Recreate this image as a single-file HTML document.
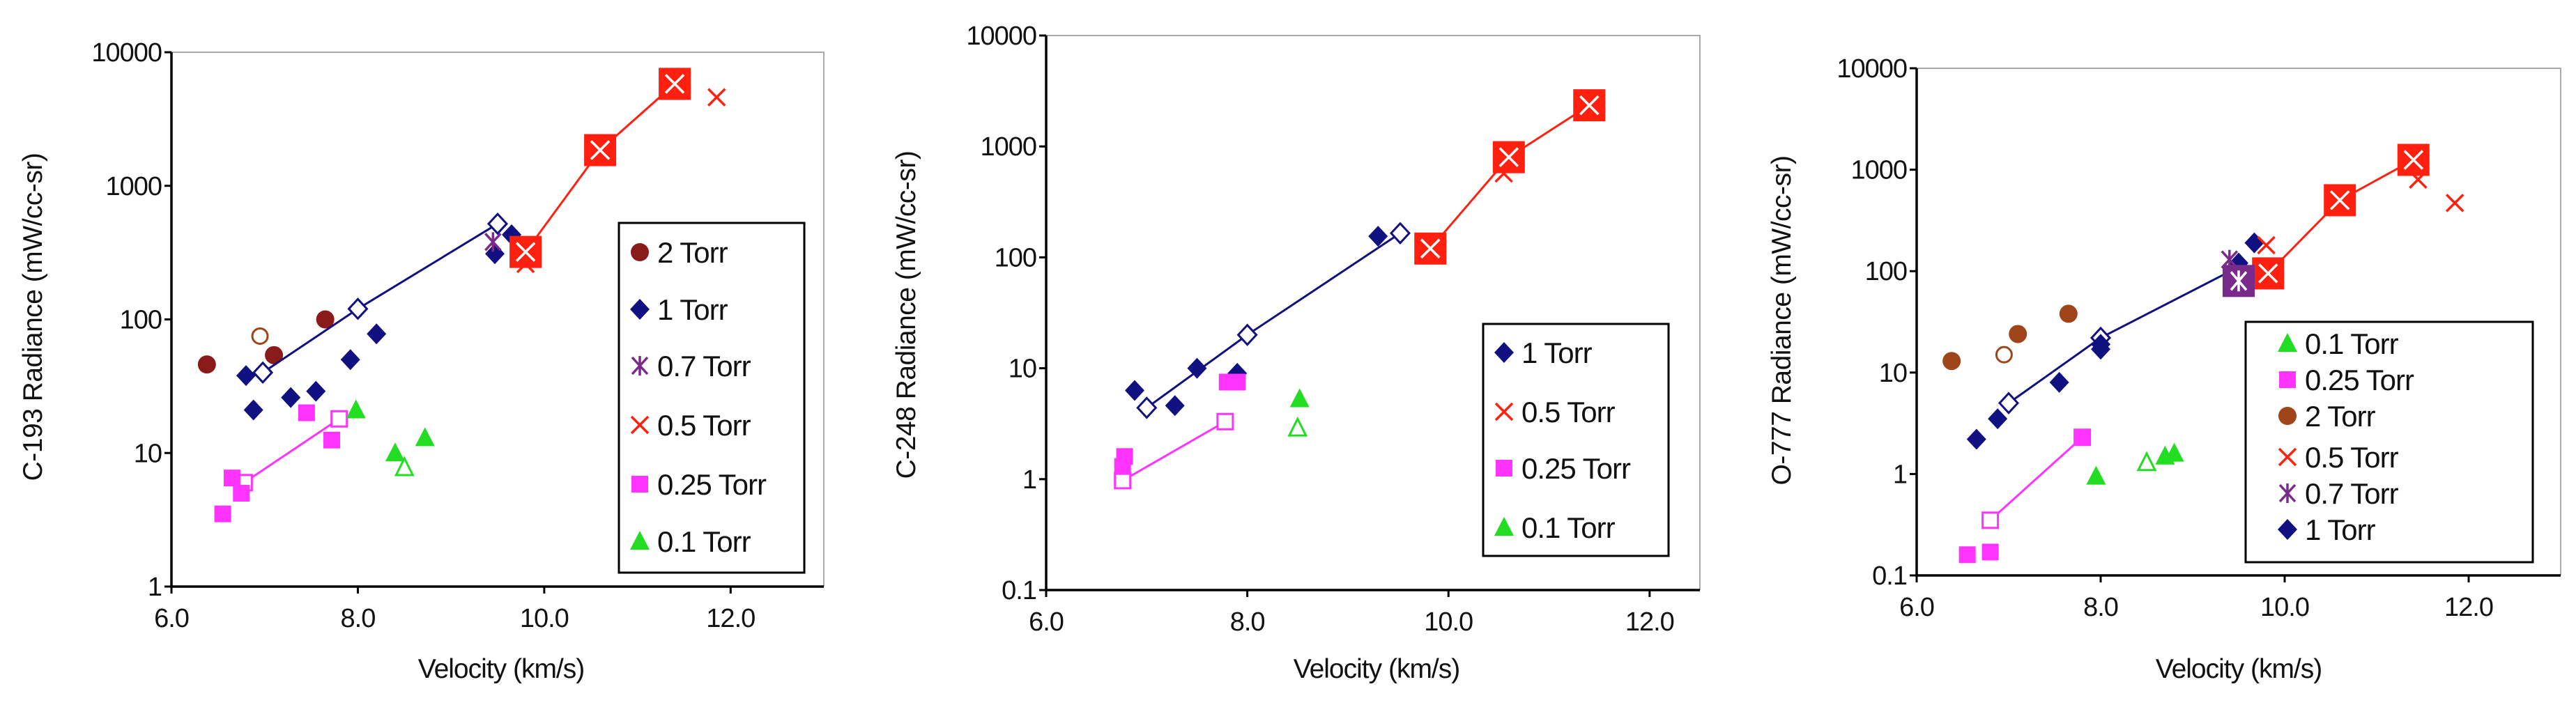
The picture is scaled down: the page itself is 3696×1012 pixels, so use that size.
<!DOCTYPE html>
<html><head><meta charset="utf-8">
<style>
html,body{margin:0;padding:0;background:#fff;}
svg{display:block;font-family:"Liberation Sans",Arial,sans-serif;}
</style></head>
<body>
<svg id="chart" width="3696" height="1012" viewBox="0 0 3696 1012" xmlns="http://www.w3.org/2000/svg"></svg>
<script>
// ---------- Data (velocity km/s, radiance mW/cc-sr) ----------
const xTicks=[6,8,10,12];
const xTickLabels=["6.0","8.0","10.0","12.0"];
// Panel 1: C-193
const p1_torr2=[[6.38,46],[7.1,54],[7.65,100]];
const p1_torr2_open=[[6.95,75]];
const p1_torr1=[[6.8,38],[6.88,21],[7.28,26],[7.55,29],[7.92,50],[8.2,78],[9.47,310],[9.65,430]];
const p1_torr1_fit=[[6.98,40],[8.0,120],[9.5,520]];
const p1_torr07=[[9.45,380]];
const p1_torr05=[[11.85,4600],[9.8,260]];
const p1_torr05_fit=[[9.8,320],[10.6,1850],[11.4,5800]];
const p1_torr025=[[6.55,3.5],[6.65,6.5],[6.75,5],[7.45,20],[7.72,12.5]];
const p1_torr025_fit=[[6.78,6],[7.8,18]];
const p1_torr01=[[7.98,21],[8.4,10],[8.72,13]];
const p1_torr01_open=[[8.5,7.8]];
// Panel 2: C-248
const p2_torr1=[[6.88,6.3],[7.28,4.6],[7.5,10],[7.9,9],[9.3,155]];
const p2_torr1_fit=[[7.0,4.4],[8.0,20],[9.52,165]];
const p2_torr05=[[10.55,570]];
const p2_torr05_fit=[[9.82,120],[10.6,800],[11.4,2350]];
const p2_torr025=[[6.78,1.6],[6.76,1.3],[7.8,7.5],[7.9,7.5]];
const p2_torr025_fit=[[6.76,0.97],[7.78,3.3]];
const p2_torr01=[[8.52,5.3]];
const p2_torr01_open=[[8.5,2.9]];
// Panel 3: O-777
const p3_torr01=[[7.95,0.95],[8.7,1.5],[8.8,1.6]];
const p3_torr01_open=[[8.5,1.3]];
const p3_torr025=[[6.55,0.16],[6.8,0.17],[7.8,2.3]];
const p3_torr025_fit=[[6.8,0.35],[7.8,2.3]];
const p3_torr2=[[6.38,13],[7.1,24],[7.65,38]];
const p3_torr2_open=[[6.95,15]];
const p3_torr05=[[11.85,470],[11.45,800],[9.8,180]];
const p3_torr05_fit=[[9.82,95],[10.6,500],[11.4,1250]];
const p3_torr07=[[9.4,130]];
const p3_torr07_big=[[9.5,80]];
const p3_torr1=[[6.65,2.2],[6.88,3.5],[7.55,8],[8.0,17],[8.0,19],[9.5,120],[9.67,190]];
const p3_torr1_fit=[[7.0,5],[8.0,22],[9.5,110]];

const NS="http://www.w3.org/2000/svg";
const svg=document.getElementById('chart');
function mk(tag,attrs,parent){const e=document.createElementNS(NS,tag);for(const k in attrs)e.setAttribute(k,attrs[k]);(parent||svg).appendChild(e);return e;}

const C={navy:"#101080",red:"#ff2010",mag:"#ff33ff",grn:"#22dd22",brown:"#8b1a1a",brown2:"#a0441a",purp:"#7a2a8a"};

function marker(g,type,x,y,color){
  let e;
  if(type==="diamond"){e=mk('path',{d:`M${x} ${y-15}L${x+14} ${y}L${x} ${y+15}L${x-14} ${y}Z`,fill:color},g);}
  else if(type==="odiamond"){e=mk('path',{d:`M${x} ${y-14}L${x+13} ${y}L${x} ${y+14}L${x-13} ${y}Z`,fill:"#fff",stroke:color,"stroke-width":3},g);}
  else if(type==="circle"){e=mk('circle',{cx:x,cy:y,r:13,fill:color},g);}
  else if(type==="ocircle"){e=mk('circle',{cx:x,cy:y,r:11,fill:"none",stroke:color,"stroke-width":3},g);}
  else if(type==="square"){e=mk('rect',{x:x-12,y:y-12,width:24,height:24,fill:color},g);}
  else if(type==="osquare"){e=mk('rect',{x:x-11,y:y-11,width:22,height:22,fill:"#fff",stroke:color,"stroke-width":3},g);}
  else if(type==="tri"){e=mk('path',{d:`M${x} ${y-15}L${x+14} ${y+12}L${x-14} ${y+12}Z`,fill:color},g);}
  else if(type==="otri"){e=mk('path',{d:`M${x} ${y-13}L${x+12} ${y+11}L${x-12} ${y+11}Z`,fill:"#fff",stroke:color,"stroke-width":3},g);}
  else if(type==="x"){e=mk('path',{d:`M${x-12} ${y-12}L${x+12} ${y+12}M${x+12} ${y-12}L${x-12} ${y+12}`,stroke:color,"stroke-width":3.5,fill:"none"},g);}
  else if(type==="star"){e=mk('path',{d:`M${x-11} ${y-12}L${x+11} ${y+12}M${x+11} ${y-12}L${x-11} ${y+12}M${x} ${y-14}L${x} ${y+14}`,stroke:color,"stroke-width":3.5,fill:"none"},g);}
  else if(type==="bigx"){e=mk('g',{},g);mk('rect',{x:x-23,y:y-23,width:46,height:46,fill:color},e);mk('path',{d:`M${x-13} ${y-13}L${x+13} ${y+13}M${x+13} ${y-13}L${x-13} ${y+13}`,stroke:"#fff","stroke-width":3.5},e);}
  else if(type==="bigstar"){e=mk('g',{},g);mk('rect',{x:x-23,y:y-23,width:46,height:46,fill:color},e);mk('path',{d:`M${x-11} ${y-13}L${x+11} ${y+13}M${x+11} ${y-13}L${x-11} ${y+13}M${x} ${y-15}L${x} ${y+15}`,stroke:"#fff","stroke-width":3.5},e);}
  return e;
}

function panel(cfg){
  const g=mk('g',{});
  
  
  const L=cfg.left,R=cfg.right,T=cfg.top,B=cfg.bottom;
  const X=v=>L+(v-cfg.xmin)/(cfg.xmax-cfg.xmin)*(R-L);
  const Y=v=>B-(Math.log10(v)-Math.log10(cfg.ymin))/(Math.log10(cfg.ymax)-Math.log10(cfg.ymin))*(B-T);
  const frame=mk('path',{d:`M${L} ${T}L${R} ${T}L${R} ${B}`,stroke:"#aaa","stroke-width":2,fill:"none"},g);
  
  
  const ax=mk('path',{d:`M${L} ${T}L${L} ${B}L${R} ${B}`,stroke:"#000","stroke-width":3.5,fill:"none"},g);
  
  
  // y ticks
  for(let v=cfg.ymin;v<=cfg.ymax*1.001;v*=10){
    const y=Y(v);
    mk('line',{x1:L-10,x2:L,y1:y,y2:y,stroke:"#000","stroke-width":3},g);
    const t=mk('text',{x:L-14,y:y+13,"text-anchor":"end","font-size":38,fill:"#111","letter-spacing":"-1"},g);
    t.textContent=String(Math.round(v*10)/10);
    
    
  }
  xTicks.forEach((v,i)=>{
    const x=X(v);
    mk('line',{x1:x,x2:x,y1:B,y2:B+10,stroke:"#000","stroke-width":3},g);
    const t=mk('text',{x:x,y:B+58,"text-anchor":"middle","font-size":38,fill:"#111","letter-spacing":"-1"},g);
    t.textContent=xTickLabels[i];
    
    
  });
  const xt=mk('text',{x:cfg.xtX,y:973,"text-anchor":"middle","font-size":39,fill:"#111","letter-spacing":"-1"},g);
  xt.textContent="Velocity (km/s)";
  
  
  const yt=mk('text',{x:0,y:0,"text-anchor":"middle","font-size":39,fill:"#111","letter-spacing":"-0.5",transform:`translate(${cfg.ytX},${cfg.ytY}) rotate(-90)`},g);
  yt.textContent=cfg.ytitle;
  
  
  // series
  cfg.series.forEach(s=>{
    const sg=mk('g',{},g);
    
    
    if(s.line){
      const pts=s.data.map(p=>X(p[0])+","+Y(p[1])).join(" ");
      const pl=mk('polyline',{points:pts,fill:"none",stroke:s.color,"stroke-width":3},sg);
      
      
    }
    s.data.forEach(p=>{
      const m=marker(sg,s.type,X(p[0]),Y(p[1]),s.color);
      
      
    });
  });
  // legend
  const lg=mk('g',{},g);
  
  
  const lb=cfg.legend;
  mk('rect',{x:lb.x,y:lb.y,width:lb.w,height:lb.h,fill:"#fff",stroke:"#000","stroke-width":3},lg);
  lb.items.forEach((it,i)=>{
    const cy=lb.ys[i];
    const m=marker(lg,it[1],lb.x+lb.mx,cy,it[2]);
    
    
    const t=mk('text',{x:lb.x+lb.tx,y:cy+15,"font-size":42,fill:"#111","letter-spacing":"-1"},lg);
    t.textContent=it[0];
    
    
  });
}

panel({name:"c193-panel",left:246,right:1182,top:75,bottom:842,xmin:6,xmax:13,ymin:1,ymax:10000,
  xtX:719,ytX:60,ytY:455,ytitle:"C-193 Radiance (mW/cc-sr)",
  series:[
    {name:"torr2",data:p1_torr2,type:"circle",color:C.brown},
    {name:"torr2-open",data:p1_torr2_open,type:"ocircle",color:C.brown2},
    {name:"torr1-fit",data:p1_torr1_fit,type:"odiamond",color:C.navy,line:true},
    {name:"torr1",data:p1_torr1,type:"diamond",color:C.navy},
    {name:"torr07",data:p1_torr07,type:"star",color:C.purp},
    {name:"torr05",data:p1_torr05,type:"x",color:C.red},
    {name:"torr05-fit",data:p1_torr05_fit,type:"bigx",color:C.red,line:true},
    {name:"torr025-fit",data:p1_torr025_fit,type:"osquare",color:C.mag,line:true},
    {name:"torr025",data:p1_torr025,type:"square",color:C.mag},
    {name:"torr01",data:p1_torr01,type:"tri",color:C.grn},
    {name:"torr01-open",data:p1_torr01_open,type:"otri",color:C.grn}],
  legend:{x:888,y:320,w:266,h:502,mx:30,tx:55,ys:[362,444,525,610,695,777],
    items:[["2 Torr","circle",C.brown],["1 Torr","diamond",C.navy],["0.7 Torr","star",C.purp],["0.5 Torr","x",C.red],["0.25 Torr","square",C.mag],["0.1 Torr","tri",C.grn]]}
});

panel({name:"c248-panel",left:1501,right:2439,top:51,bottom:847,xmin:6,xmax:12.5,ymin:0.1,ymax:10000,
  xtX:1975,ytX:1313,ytY:452,ytitle:"C-248 Radiance (mW/cc-sr)",
  series:[
    {name:"torr1-fit",data:p2_torr1_fit,type:"odiamond",color:C.navy,line:true},
    {name:"torr1",data:p2_torr1,type:"diamond",color:C.navy},
    {name:"torr05",data:p2_torr05,type:"x",color:C.red},
    {name:"torr05-fit",data:p2_torr05_fit,type:"bigx",color:C.red,line:true},
    {name:"torr025-fit",data:p2_torr025_fit,type:"osquare",color:C.mag,line:true},
    {name:"torr025",data:p2_torr025,type:"square",color:C.mag},
    {name:"torr01",data:p2_torr01,type:"tri",color:C.grn},
    {name:"torr01-open",data:p2_torr01_open,type:"otri",color:C.grn}],
  legend:{x:2128,y:465,w:266,h:333,mx:30,tx:55,ys:[506,591,672,757],
    items:[["1 Torr","diamond",C.navy],["0.5 Torr","x",C.red],["0.25 Torr","square",C.mag],["0.1 Torr","tri",C.grn]]}
});

panel({name:"o777-panel",left:2750,right:3674,top:98,bottom:826,xmin:6,xmax:13,ymin:0.1,ymax:10000,
  xtX:3212,ytX:2569,ytY:460,ytitle:"O-777 Radiance (mW/cc-sr)",
  series:[
    {name:"torr01",data:p3_torr01,type:"tri",color:C.grn},
    {name:"torr01-open",data:p3_torr01_open,type:"otri",color:C.grn},
    {name:"torr025-fit",data:p3_torr025_fit,type:"osquare",color:C.mag,line:true},
    {name:"torr025",data:p3_torr025,type:"square",color:C.mag},
    {name:"torr2",data:p3_torr2,type:"circle",color:C.brown2},
    {name:"torr2-open",data:p3_torr2_open,type:"ocircle",color:C.brown2},
    {name:"torr1-fit",data:p3_torr1_fit,type:"odiamond",color:C.navy,line:true},
    {name:"torr1",data:p3_torr1,type:"diamond",color:C.navy},
    {name:"torr05",data:p3_torr05,type:"x",color:C.red},
    {name:"torr05-fit",data:p3_torr05_fit,type:"bigx",color:C.red,line:true},
    {name:"torr07",data:p3_torr07,type:"star",color:C.purp},
    {name:"torr07-big",data:p3_torr07_big,type:"bigstar",color:C.purp}],
  legend:{x:3222,y:462,w:412,h:345,mx:60,tx:85,ys:[493,545,597,656,708,760],
    items:[["0.1 Torr","tri",C.grn],["0.25 Torr","square",C.mag],["2 Torr","circle",C.brown2],["0.5 Torr","x",C.red],["0.7 Torr","star",C.purp],["1 Torr","diamond",C.navy]]}
});
</script>
</body></html>
